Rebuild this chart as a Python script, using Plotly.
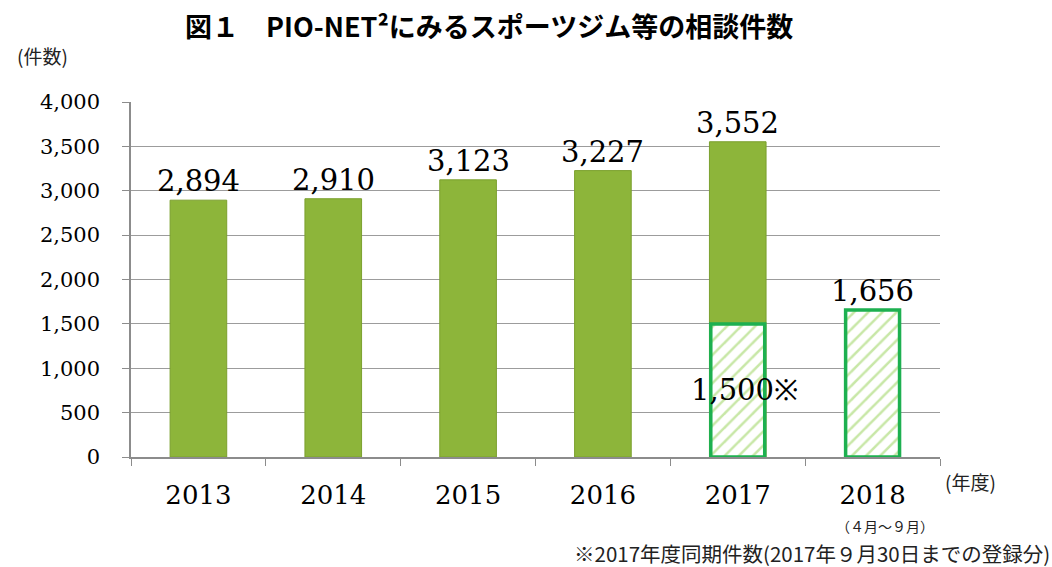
import plotly.graph_objects as go

years = ["2013", "2014", "2015", "2016", "2017", "2018"]
totals = [2894, 2910, 3123, 3227, 3552, None]
partial = [None, None, None, None, 1500, 1656]
total_labels = ["2,894", "2,910", "3,123", "3,227", "3,552", None]
partial_labels = [None, None, None, None, "1,500※", "1,656"]
y_ticks = [0, 500, 1000, 1500, 2000, 2500, 3000, 3500, 4000]
y_tick_text = ["0", "500", "1,000", "1,500", "2,000", "2,500", "3,000", "3,500", "4,000"]

SERIF = "Century Schoolbook, DejaVu Serif, serif"
JP = "Noto Sans CJK JP"

idx = list(range(len(years)))
boundaries = [i - 0.5 for i in range(len(years) + 1)]

fig = go.Figure()
fig.add_trace(go.Bar(
    x=idx, y=totals, width=0.42,
    marker=dict(color="#8DB53A", line=dict(color="#7BA02E", width=1)),
    hoverinfo="skip",
))
fig.add_trace(go.Bar(
    x=idx, y=partial, width=0.40,
    marker=dict(color="white", line=dict(color="#1DB050", width=3.5),
                pattern=dict(shape="/", fgcolor="#92D050", bgcolor="white",
                             size=10, solidity=0.25)),
    hoverinfo="skip",
))

LBL = dict(family=SERIF, size=29, color="black")
annotations = []
for i, v, t in zip(idx, totals, total_labels):
    if t:
        annotations.append(dict(x=i, y=v, text=t, showarrow=False, yanchor="bottom",
                                yshift=0, font=LBL))
annotations.append(dict(x=5, y=partial[5], text=partial_labels[5], showarrow=False,
                        yanchor="bottom", yshift=0, font=LBL))
annotations.append(dict(x=4, y=partial[4] * 0.5, text=partial_labels[4], showarrow=False,
                        xshift=7, yanchor="middle", font=LBL))

annotations += [
    dict(xref="paper", yref="paper", x=-0.11, y=1.13, xanchor="center", yanchor="middle",
         text="(件数)", showarrow=False, font=dict(family=JP, size=19, color="#222")),
    dict(xref="paper", yref="paper", x=1.038, y=-0.068, xanchor="center", yanchor="middle",
         text="(年度)", showarrow=False, font=dict(family=JP, size=19, color="#222")),
    dict(xref="paper", yref="paper", x=0.932, y=-0.193, xanchor="center", yanchor="middle",
         text="（４月～９月）", showarrow=False, font=dict(family=JP, size=14, color="#222")),
    dict(xref="paper", yref="paper", x=1.138, y=-0.27, xanchor="right", yanchor="middle",
         text="※2017年度同期件数(2017年９月30日までの登録分)", showarrow=False,
         font=dict(family=JP, size=20.5, color="#222")),
]

fig.update_layout(
    width=1052, height=567,
    margin=dict(l=131, r=112, t=102, b=110),
    paper_bgcolor="white", plot_bgcolor="white",
    barmode="overlay", showlegend=False,
    title=dict(text="<b>図１　PIO-NET²にみるスポーツジム等の相談件数</b>",
               x=0.465, xanchor="center", y=0.952, yanchor="middle",
               font=dict(family=JP, size=27, color="black")),
    annotations=annotations,
)
fig.update_xaxes(
    range=[-0.5, 5.5], tickvals=idx, ticktext=years, ticks="",
    showgrid=False, zeroline=False, ticklabelstandoff=14,
    showline=True, linecolor="#8C8C8C", linewidth=1.5,
    tickfont=dict(family=SERIF, size=26, color="black"),
    minor=dict(tickvals=boundaries, ticks="outside", ticklen=7, tickcolor="#8C8C8C",
               showgrid=False),
)
fig.update_yaxes(
    range=[0, 4000], tickvals=y_ticks, ticktext=y_tick_text,
    showgrid=True, gridcolor="#9C9C9C", gridwidth=1.2,
    showline=True, linecolor="#8C8C8C", linewidth=1.5, ticklabelstandoff=18,
    ticks="outside", ticklen=7, tickcolor="#8C8C8C", zeroline=False,
    tickfont=dict(family=SERIF, size=21, color="black"),
)

fig.write_html("out.html")
